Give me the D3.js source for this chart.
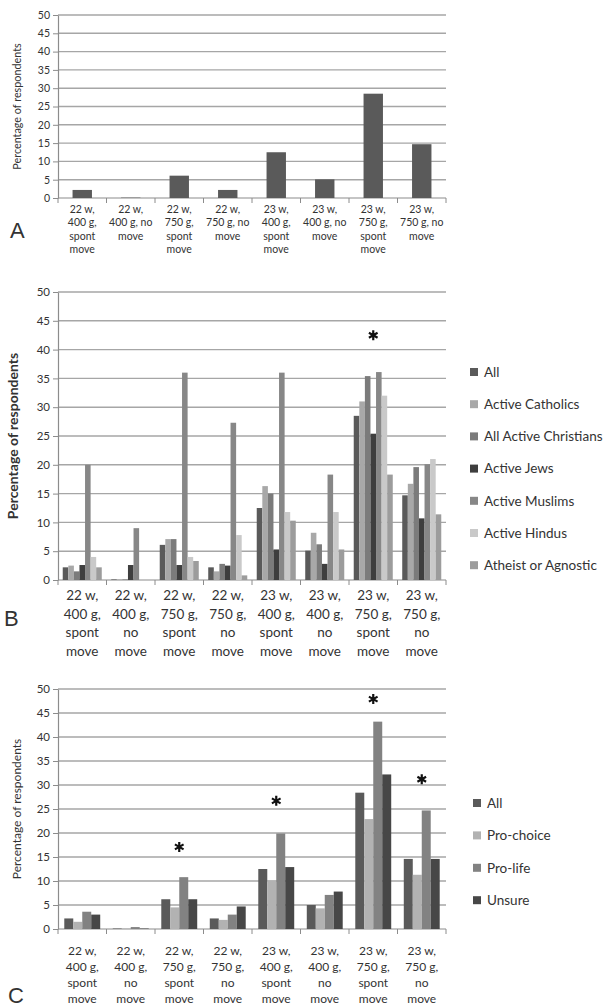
<!DOCTYPE html>
<html>
<head>
<meta charset="utf-8">
<script src="https://cdn.jsdelivr.net/npm/d3@7"></script>
<style>
  body { margin: 0; background: #fff; }
  text { font-family: Lato, "Open Sans", sans-serif; fill: #333; }
</style>
</head>
<body>
<svg id="chart" width="615" height="1007"></svg>
<script>
// categories (scenario: gestational age, weight, movement)
const categories = ["22 w, 400 g, spont move", "22 w, 400 g, no move", "22 w, 750 g, spont move",
    "22 w, 750 g, no move", "23 w, 400 g, spont move", "23 w, 400 g, no move",
    "23 w, 750 g, spont move", "23 w, 750 g, no move"];

const labelLinesA = [["22 w,", "400 g,", "spont", "move"], ["22 w,", "400 g, no", "move"],
    ["22 w,", "750 g,", "spont", "move"], ["22 w,", "750 g, no", "move"],
    ["23 w,", "400 g,", "spont", "move"], ["23 w,", "400 g, no", "move"],
    ["23 w,", "750 g,", "spont", "move"], ["23 w,", "750 g, no", "move"]];

const labelLinesBC = [["22 w,", "400 g,", "spont", "move"], ["22 w,", "400 g,", "no", "move"],
    ["22 w,", "750 g,", "spont", "move"], ["22 w,", "750 g,", "no", "move"],
    ["23 w,", "400 g,", "spont", "move"], ["23 w,", "400 g,", "no", "move"],
    ["23 w,", "750 g,", "spont", "move"], ["23 w,", "750 g,", "no", "move"]];

const yTicks = [0, 5, 10, 15, 20, 25, 30, 35, 40, 45, 50];

// panel A
const seriesA = ["All"];
const valuesA = [2.2, 0.1, 6.1, 2.2, 12.5, 5.1, 28.5, 14.7];

// panel B
const seriesB = ["All", "Active Catholics", "All Active Christians", "Active Jews",
    "Active Muslims", "Active Hindus", "Atheist or Agnostic"];
const colorsB = ["#5a5a5a", "#a8a8a8", "#7b7b7b", "#3e3e3e", "#878787", "#c9c9c9", "#9c9c9c"];
const bAll = [2.2, 0.1, 6.1, 2.2, 12.5, 5.1, 28.5, 14.7];
const bCatholics = [2.5, 0.1, 7.1, 1.5, 16.3, 8.2, 31, 16.7];
const bChristians = [1.5, 0.1, 7.1, 2.8, 15, 6.2, 35.4, 19.6];
const bJews = [2.6, 2.6, 2.6, 2.5, 5.3, 2.8, 25.4, 10.7];
const bMuslims = [20, 9, 36, 27.3, 36, 18.3, 36.1, 20.1];
const bHindus = [4, 0, 4, 7.8, 11.8, 11.8, 32, 21];
const bAtheist = [2.2, 0, 3.3, 0.8, 10.3, 5.3, 18.3, 11.4];
const asteriskB = [{cat: 6, value: 42.5}];

// panel C
const seriesC = ["All", "Pro-choice", "Pro-life", "Unsure"];
const colorsC = ["#5a5a5a", "#b2b2b2", "#828282", "#474747"];
const cAll = [2.2, 0.1, 6.2, 2.2, 12.5, 5, 28.4, 14.6];
const cProChoice = [1.5, 0.1, 4.5, 1.9, 10.1, 4.3, 22.9, 11.3];
const cProLife = [3.6, 0.4, 10.8, 3, 19.9, 7.1, 43.2, 24.7];
const cUnsure = [3, 0.1, 6.2, 4.7, 12.9, 7.8, 32.2, 14.6];
const asteriskC = [{cat: 2, value: 17.1}, {cat: 4, value: 26.7}, {cat: 6, value: 47.9}, {cat: 7, value: 31.2}];

const svg = d3.select("#chart");

function drawPanel(p) {
    const g = svg.append("g");

    const x0 = d3.scaleBand().domain(categories).range([58, 446]);
    const x1 = d3.scaleBand().domain(p.series).range([0, x0.bandwidth()]).paddingOuter(p.outerPad);
    const y = d3.scaleLinear().domain([0, 50]).range([p.bottom, p.top]);
    const color = d3.scaleOrdinal().domain(p.series).range(p.colors);

    // gridlines
    g.selectAll(".grid").data(yTicks.filter(t => t > 0)).join("line")
        .attr("x1", x0.range()[0]).attr("x2", x0.range()[1])
        .attr("y1", d => y(d)).attr("y2", d => y(d))
        .attr("stroke", "#a6a6a6").attr("stroke-width", 1.4);

    // y axis
    const yAxis = g.append("g")
        .attr("transform", `translate(${x0.range()[0]},0)`)
        .call(d3.axisLeft(y).tickValues(yTicks).tickSize(5).tickPadding(3).tickSizeOuter(0));
    yAxis.select(".domain").attr("stroke", "#8c8c8c").attr("stroke-width", 1.2);
    yAxis.selectAll(".tick line").attr("stroke", "#8c8c8c");
    yAxis.selectAll("text").style("font-size", p.tickFont + "px").attr("fill", "#333");

    // x axis line and boundary ticks
    g.append("line")
        .attr("x1", x0.range()[0]).attr("x2", x0.range()[1])
        .attr("y1", y(0)).attr("y2", y(0))
        .attr("stroke", "#8c8c8c").attr("stroke-width", 1.2);
    const bounds = categories.map(c => x0(c)).concat([x0.range()[1]]);
    g.selectAll(".xtick").data(bounds).join("line")
        .attr("x1", d => d).attr("x2", d => d)
        .attr("y1", y(0)).attr("y2", y(0) + 5)
        .attr("stroke", "#8c8c8c");

    // bars
    const rows = categories.map((c, i) => ({cat: c, vals: p.series.map((s, j) => ({s: s, v: p.values[j][i]}))}));
    g.selectAll(".grp").data(rows).join("g")
        .attr("transform", d => `translate(${x0(d.cat)},0)`)
        .selectAll("rect").data(d => d.vals).join("rect")
        .attr("x", d => x1(d.s))
        .attr("width", x1.bandwidth())
        .attr("y", d => y(d.v))
        .attr("height", d => y(0) - y(d.v))
        .attr("fill", d => color(d.s));

    // category labels
    const lab = g.selectAll(".lab").data(categories).join("text")
        .attr("text-anchor", "middle")
        .style("font-size", p.labelFont + "px");
    lab.selectAll("tspan").data((d, i) => p.labelLines[i]).join("tspan")
        .attr("x", function () { return x0(this.parentNode.__data__) + x0.bandwidth() / 2; })
        .attr("y", (d, i) => p.labelY + i * p.lineH)
        .text(d => d);

    // y title
    g.append("text")
        .attr("transform", `translate(${p.titleX},${(p.top + p.bottom) / 2}) rotate(-90)`)
        .attr("text-anchor", "middle")
        .style("font-size", p.titleFont + "px")
        .style("font-weight", p.titleWeight)
        .text("Percentage of respondents");

    // panel letter
    g.append("text")
        .attr("x", p.letterX).attr("y", p.letterY)
        .style("font-size", "22px").style("font-family", "'Liberation Sans', Arial, sans-serif")
        .text(p.letter);

    // asterisks
    g.selectAll(".ast").data(p.asterisks).join("path")
        .attr("transform", d => `translate(${x0(categories[d.cat]) + x0.bandwidth() / 2},${y(d.value)})`)
        .attr("d", d3.symbol(d3.symbolAsterisk, 70))
        .attr("stroke", "#111").attr("stroke-width", 2.2).attr("fill", "none");

    // legend
    if (p.legend) {
        const lg = g.selectAll(".leg").data(p.series).join("g")
            .attr("transform", (d, i) => `translate(${p.legendX},${p.legendY + i * p.legendStep})`);
        lg.append("rect").attr("x", 0).attr("y", -4).attr("width", 8).attr("height", 8)
            .attr("fill", d => color(d));
        lg.append("text").attr("x", 14).attr("dy", "0.35em")
            .style("font-size", "13.5px").text(d => d);
    }
}

drawPanel({
    series: seriesA, colors: ["#5a5a5a"], values: [valuesA], outerPad: 0.75,
    top: 15, bottom: 198, tickFont: 10.5, labelFont: 10.5, labelLines: labelLinesA,
    labelY: 213, lineH: 13.3, titleX: 21, titleFont: 10.8, titleWeight: "normal",
    letter: "A", letterX: 10, letterY: 238, asterisks: [], legend: false
});

drawPanel({
    series: seriesB, colors: colorsB,
    values: [bAll, bCatholics, bChristians, bJews, bMuslims, bHindus, bAtheist], outerPad: 0.85,
    top: 292, bottom: 580, tickFont: 11.5, labelFont: 13.5, labelLines: labelLinesBC,
    labelY: 600, lineH: 18.5, titleX: 18, titleFont: 14, titleWeight: "bold",
    letter: "B", letterX: 4, letterY: 626, asterisks: asteriskB,
    legend: true, legendX: 470, legendY: 372, legendStep: 32.2
});

drawPanel({
    series: seriesC, colors: colorsC,
    values: [cAll, cProChoice, cProLife, cUnsure], outerPad: 0.7,
    top: 689, bottom: 929, tickFont: 11.5, labelFont: 12, labelLines: labelLinesBC,
    labelY: 955, lineH: 16, titleX: 21, titleFont: 12, titleWeight: "normal",
    letter: "C", letterX: 8, letterY: 1003, asterisks: asteriskC,
    legend: true, legendX: 473, legendY: 803, legendStep: 32.4
});
</script>
</body>
</html>
